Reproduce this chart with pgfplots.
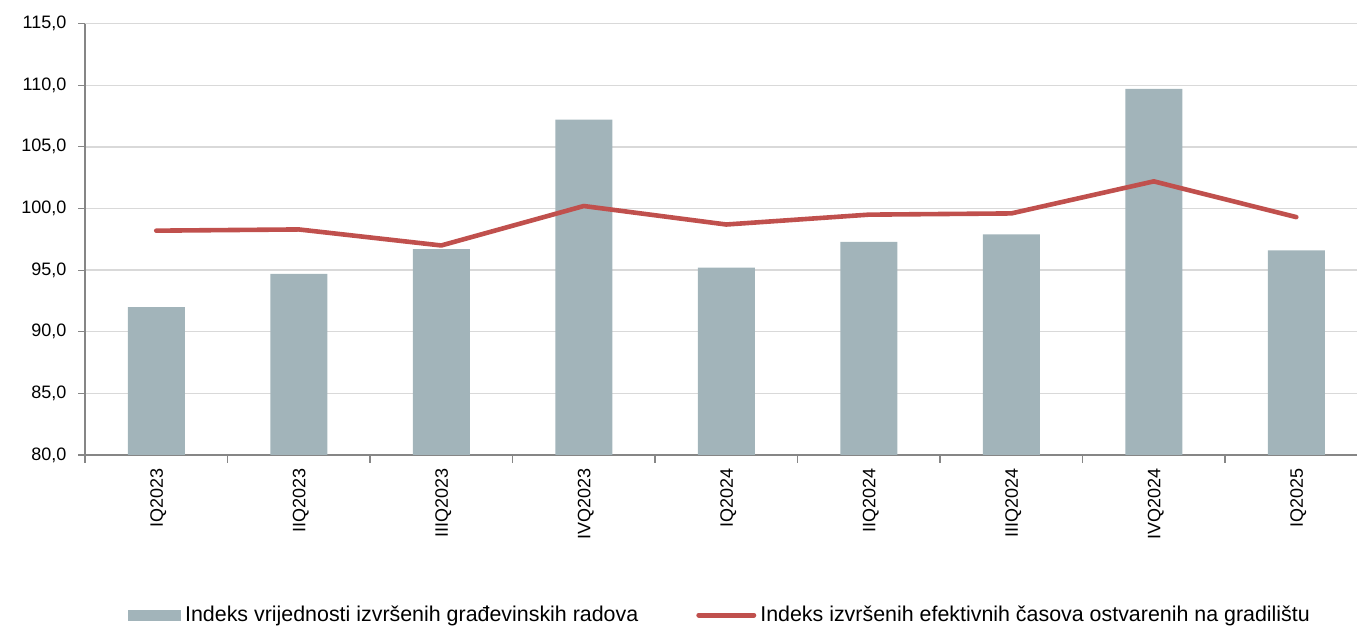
\documentclass[border=0pt]{standalone}
\usepackage{pgfplots}
\pgfplotsset{compat=1.18}
\usepackage{fontspec}
\setmainfont{Liberation Sans}
\definecolor{barcol}{HTML}{A2B4BA}
\definecolor{linecol}{HTML}{C0504D}
\definecolor{gridcol}{HTML}{D9D9D9}
\definecolor{axcol}{HTML}{868686}
\begin{document}
\begin{tikzpicture}
\path[use as bounding box] (-42.5pt,-85.5pt) rectangle (636pt,227.5pt);
\begin{axis}[
  at={(0,0)}, anchor=south west,
  scale only axis, width=636pt, height=215.7pt,
  xmin=-0.5, xmax=8.426, ymin=80, ymax=115,
  ytick={80,85,...,115},
  xtick={0,...,8},
  xticklabels={IQ2023,IIQ2023,IIIQ2023,IVQ2023,IQ2024,IIQ2024,IIIQ2024,IVQ2024,IQ2025},
  minor xtick={-0.5,0.5,...,7.5},
  major x tick style={draw=none},
  minor tick length=3.8pt, major tick length=3.3pt,
  tick align=outside,
  tick style={axcol, line width=0.6pt},
  axis x line*=bottom, axis y line*=left,
  axis line style={-, draw=axcol, line width=0.8pt},
  ymajorgrids, grid style={gridcol, line width=0.7pt},
  /pgf/number format/.cd, use comma, fixed, fixed zerofill, precision=1, assume math mode=true,
  /pgfplots/.cd,
  ticklabel style={font=\fontsize{9}{10}\selectfont, black},
  yticklabel style={xshift=-2.5pt},
  xticklabel style={rotate=90, anchor=east, yshift=-1pt},
  legend style={at={(0.5,-0.371)}, anchor=center, draw=none, fill=none,
    font=\fontsize{10.7}{12}\selectfont, legend columns=2,
    /tikz/every even column/.append style={column sep=27pt}},
  legend cell align=left,
]
\addplot[ybar, bar width=0.4, fill=barcol, draw=none,
  legend image code/.code={\fill[barcol] (0pt,-2.75pt) rectangle (26.5pt,2.75pt);}]
  coordinates {(0,92.0) (1,94.7) (2,96.7) (3,107.2) (4,95.2) (5,97.3) (6,97.9) (7,109.7) (8,96.6)};
\addlegendentry{Indeks vrijednosti izvršenih građevinskih radova}
\addplot[linecol, line width=2.3pt, line cap=round, line join=round, mark=none,
  legend image code/.code={\draw[linecol, line width=2.5pt, line cap=round] (0pt,0pt) -- (27.5pt,0pt);}]
  coordinates {(0,98.2) (1,98.3) (2,97.0) (3,100.2) (4,98.7) (5,99.5) (6,99.6) (7,102.2) (8,99.3)};
\addlegendentry{Indeks izvršenih efektivnih časova ostvarenih na gradilištu}
\end{axis}
\end{tikzpicture}
\end{document}
